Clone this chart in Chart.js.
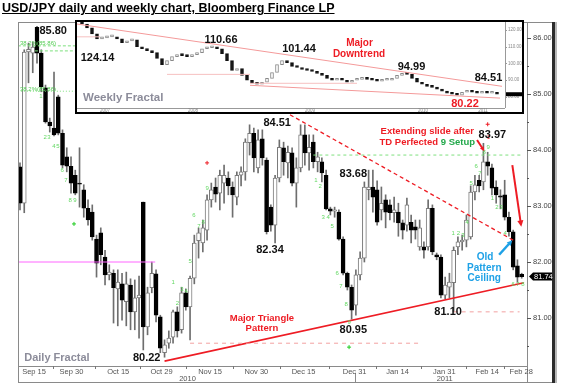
<!DOCTYPE html>
<html>
<head>
<meta charset="utf-8">
<script src="https://cdn.jsdelivr.net/npm/chart.js@4.4.1/dist/chart.umd.min.js"></script>
<style>
html, body { margin: 0; padding: 0; background: #fff; }
#wrap { position: relative; width: 568px; height: 388px; overflow: hidden; }
#main { position: absolute; left: 0; top: 0; }
#title { position: absolute; left: 2px; top: 1px; z-index: 3; white-space: nowrap;
         font: bold 12.5px "Liberation Sans", Arial, sans-serif; text-decoration: underline; color: #000; }
#insetBox { position: absolute; left: 75px; top: 20px; width: 445px; height: 90px;
            border: 2px solid #000; background: #fff; z-index: 2; }
#inset { position: absolute; left: 0; top: 0; }
</style>
</head>
<body>
<div id="wrap">
  <canvas id="main" width="568" height="388"></canvas>
  <div id="title">USD/JPY daily and weekly chart, Bloomberg Finance LP</div>
  <div id="insetBox"><canvas id="inset" width="445" height="90"></canvas></div>
</div>
<script>
// daily candles, index 0 = Sep 14 2010
const candleOpen = [
  83.70,83.05,85.75,85.73,86.19,85.73,85.11,84.50,84.39,84.95,
  84.30,83.88,83.71,83.55,83.41,83.29,82.96,82.89,82.41,82.52,
  82.09,81.77,81.80,81.52,81.61,81.29,81.59,81.11,81.36,83.07,
  80.84,81.54,81.79,81.02,80.38,80.55,80.66,81.11,80.79,81.45,
  81.20,81.71,82.38,82.34,82.57,83.11,83.34,83.23,83.41,83.50,
  83.34,83.16,83.55,83.61,84.13,84.30,83.68,84.20,83.82,82.98,
  82.66,83.50,84.04,83.77,83.95,83.41,83.68,84.27,83.95,84.14,
  83.79,83.79,83.55,82.95,82.91,82.89,82.41,81.80,81.55,81.23,
  81.77,82.07,83.29,83.34,83.29,82.93,83.11,83.02,82.88,82.89,
  82.70,82.66,82.71,82.63,82.27,82.27,82.27,82.96,82.13,82.09,
  81.41,81.55,81.63,82.27,82.36,82.39,82.45,83.25,83.46,83.43,
  83.79,83.68,83.34,83.18,83.20,82.80,82.54,81.93,81.78];
const candleHigh = [
  83.77,85.79,85.91,85.93,86.21,85.79,85.16,84.57,85.39,84.98,
  84.36,84.04,83.88,83.64,84.04,83.38,83.11,83.02,82.48,82.61,
  82.21,81.95,81.86,81.86,81.80,81.82,81.70,81.68,81.75,83.07,
  81.55,82.00,81.86,81.05,80.61,80.77,81.14,81.20,81.55,81.52,
  81.75,82.48,82.61,82.75,83.20,83.41,83.50,83.64,83.73,83.61,
  83.43,83.61,83.70,84.20,84.45,84.39,84.36,84.36,83.86,83.02,
  83.55,84.18,84.14,84.07,84.04,83.86,84.45,84.45,84.27,84.27,
  83.96,83.86,83.64,82.98,82.98,82.93,82.45,81.82,81.59,81.86,
  82.18,83.43,83.64,83.64,83.45,83.34,83.20,83.11,83.16,83.05,
  82.75,83.14,82.84,82.75,82.75,82.36,83.11,83.02,82.16,82.13,
  81.73,81.80,82.27,82.45,82.48,82.84,83.36,83.55,83.55,84.12,
  83.96,83.75,83.45,83.29,83.46,82.89,82.57,82.04,81.80];
const candleLow = [
  82.93,82.88,85.20,85.38,85.55,85.04,84.48,84.32,84.25,84.27,
  83.68,83.61,83.23,83.20,82.98,82.80,82.66,82.39,81.73,81.95,
  81.59,81.68,80.91,80.86,80.96,80.86,80.79,80.79,80.64,80.43,
  80.70,81.45,80.93,80.38,80.30,80.46,80.55,80.66,80.73,81.14,
  80.61,81.61,82.07,82.18,82.39,82.98,83.07,82.93,83.05,83.20,
  82.80,83.02,83.36,83.46,83.91,83.61,83.59,83.73,82.50,82.55,
  82.34,83.43,83.55,83.50,83.36,82.98,83.61,83.73,83.64,83.68,
  83.61,83.43,82.93,82.84,82.80,82.39,81.77,81.50,80.98,81.05,
  81.68,82.00,83.11,82.89,82.66,82.75,82.61,82.75,82.71,82.46,
  82.41,82.55,82.34,82.41,82.21,82.07,82.21,82.13,82.04,81.36,
  81.34,81.36,81.11,82.13,82.21,82.27,82.41,83.11,83.25,83.29,
  83.55,83.20,83.05,82.95,82.75,82.46,81.86,81.64,81.71];
const candleClose = [
  83.05,85.75,85.80,85.84,85.73,85.13,84.50,84.43,84.27,84.30,
  83.73,83.71,83.41,83.23,83.39,82.96,82.75,82.45,81.98,82.13,
  81.77,81.82,81.54,81.64,81.32,81.61,81.11,81.36,81.41,80.84,
  81.45,81.80,81.05,80.46,80.52,80.64,81.11,80.77,81.45,81.20,
  81.71,82.34,82.52,82.61,83.11,83.29,83.21,83.55,83.55,83.36,
  83.20,83.55,83.61,84.14,84.30,83.86,84.18,83.86,82.54,82.66,
  83.50,84.05,83.79,83.96,83.41,83.68,84.27,83.95,84.05,83.79,
  83.88,83.59,82.95,82.91,82.93,82.41,81.80,81.55,81.14,81.77,
  82.07,83.34,83.34,83.16,82.71,83.05,82.89,82.88,82.93,82.70,
  82.57,83.02,82.57,82.57,82.61,82.21,82.96,82.18,82.09,81.41,
  81.59,81.64,82.21,82.36,82.39,82.75,83.25,83.38,83.36,83.79,
  83.71,83.32,83.20,83.16,82.80,82.54,81.91,81.73,81.74];

// axis labels (positions are candle indices)
const xTickLabels = ['Sep 15','Sep 30','Oct 15','Oct 29','Nov 15','Nov 30','Dec 15','Dec 31','Jan 14','Jan 31','Feb 14','Feb 28'];
const xTickIndex  = [3.3, 12.1, 23.1, 33.3, 44.7, 55.6, 66.7, 78.7, 88.8, 99.8, 109.9, 117.9];
const yearLabels = ['2010', '2011'];
const yearIndex  = [39.4, 99.9];
const yTicks = [81, 82, 83, 84, 85, 86];
const lastPrice = 81.74;

// TD setup counts
const tdText  = ['1','2','3','4','5','6','7','8','9',
                 '1','2','3','4','5','6','7','8','9',
                 '1','2','3','4','5','6','7','8','9',
                 '1','2','3','4','5','6','7','8','9',
                 '1','2','3','4','6','7','8'];
const tdIndex = [4.9,5.9,6.8,8.0,8.9,9.9,10.8,11.8,12.9,
                 36.0,37.0,38.1,39.1,40.0,40.9,42.1,43.1,44.0,
                 69.6,70.6,71.3,72.5,73.4,74.6,75.5,76.7,77.4,
                 101.9,103.1,104.2,105.2,106.1,107.3,108.2,109.2,110.1,
                 111.1,112.2,113.2,114.1,116.0,117.1,118.3];
const tdPrice = [84.95,84.23,84.23,84.07,84.07,83.63,83.46,83.11,83.11,
                 81.63,81.27,81.52,81.48,82.02,82.84,82.64,82.70,83.32,
                 83.46,83.36,82.80,82.80,82.63,81.79,81.57,81.25,80.93,
                 82.52,82.52,82.48,82.71,83.41,83.71,83.59,83.96,84.04,
                 83.13,82.98,82.98,82.52,81.60,81.60,81.60];

// weekly closes for the inset, mid 2007 .. Feb 2011
const weeklyClose = [
  124.0,123.4,121.1,117.5,114.6,115.2,115.8,115.8,114.6,112.3,
  113.4,114.0,109.9,108.7,107.6,106.4,102.9,99.3,101.7,104.0,
  105.2,104.6,104.0,105.2,106.4,108.7,109.3,109.9,108.7,105.8,
  101.7,95.8,97.0,92.9,90.0,88.2,87.6,88.8,91.1,94.6,
  99.3,101.7,100.5,98.2,97.6,96.4,95.8,95.2,94.1,92.9,
  91.1,90.0,91.1,90.0,88.8,90.0,90.5,91.7,90.5,90.0,
  89.4,90.0,90.0,91.1,92.9,94.1,93.5,91.1,88.8,87.6,
  86.4,85.8,84.7,83.5,82.3,81.7,81.1,82.9,83.5,82.9,
  82.3,82.9,82.3,82.3,81.7];
const insetYTicks = [120, 110, 100, 90, 80];
const insetYearLabels = ['2007', '2008', '2009', '2010', '2011'];
const insetYearIndex  = [5.6, 23.2, 46.6, 69.2, 81.2];

const FONT = '"Liberation Sans", Arial, sans-serif';
const RED = '#ee1c24', GREEN = '#22a84a', BLUE = '#1ea1e6';

function seg(x0, y0, x1, y1, color, width, dash) {
  return {
    type: 'line',
    data: [{x: x0, y: y0}, {x: x1, y: y1}],
    borderColor: color, borderWidth: width, borderDash: dash || [],
    pointRadius: 0, fill: false, order: 0
  };
}

function arrow(ctx, x0, y0, x1, y1, color, width, head) {
  const ang = Math.atan2(y1 - y0, x1 - x0);
  ctx.strokeStyle = color; ctx.fillStyle = color; ctx.lineWidth = width;
  ctx.beginPath();
  ctx.moveTo(x0, y0);
  ctx.lineTo(x1 - Math.cos(ang) * head * 0.8, y1 - Math.sin(ang) * head * 0.8);
  ctx.stroke();
  ctx.beginPath();
  ctx.moveTo(x1, y1);
  ctx.lineTo(x1 - head * Math.cos(ang - 0.45), y1 - head * Math.sin(ang - 0.45));
  ctx.lineTo(x1 - head * Math.cos(ang + 0.45), y1 - head * Math.sin(ang + 0.45));
  ctx.closePath();
  ctx.fill();
}

function star(ctx, x, y, color) {
  ctx.strokeStyle = color; ctx.lineWidth = 1;
  ctx.beginPath();
  ctx.moveTo(x - 2, y); ctx.lineTo(x + 2, y);
  ctx.moveTo(x, y - 2); ctx.lineTo(x, y + 2);
  ctx.stroke();
}

// ---------- main daily chart ----------
const idx = candleOpen.map((_, i) => i);
const isUp = idx.map(i => candleClose[i] >= candleOpen[i]);

const mainOverlay = {
  id: 'mainOverlay',
  afterDatasetsDraw(chart) {
    const ctx = chart.ctx, a = chart.chartArea;
    const px = v => chart.scales.x.getPixelForValue(v);
    const py = v => chart.scales.y.getPixelForValue(v);
    ctx.save();
    ctx.textAlign = 'center';
    ctx.textBaseline = 'middle';

    // TD counts
    ctx.font = '6px ' + FONT;
    ctx.fillStyle = '#62d862';
    tdText.forEach((t, i) => ctx.fillText(t, px(tdIndex[i]), py(tdPrice[i])));
    ctx.fillStyle = RED;
    ctx.fillText('1', px(110.2), py(84.22));

    // fibonacci labels
    ctx.textAlign = 'left';
    ctx.fillStyle = '#55cc55';
    ctx.fillText('38.2%(85.86)', px(0), py(85.91));
    ctx.fillText('38.2%(85.86)', px(0), py(85.09));

    // fractal markers
    star(ctx, px(44), py(83.77), RED);
    star(ctx, px(110), py(84.46), RED);
    star(ctx, px(77.4), py(80.48), '#22cc22');
    star(ctx, px(12.7), py(82.68), '#22cc22');

    // price labels
    ctx.textAlign = 'center';
    ctx.font = 'bold 11px ' + FONT;
    ctx.fillStyle = '#111';
    [['85.80', 7.8, 86.125], ['80.22', 29.8, 80.29], ['84.51', 60.5, 84.48],
     ['82.34', 58.8, 82.21], ['83.68', 78.4, 83.57], ['80.95', 78.4, 80.79],
     ['81.10', 100.7, 81.11], ['83.97', 111.1, 84.27]]
      .forEach(n => ctx.fillText(n[0], px(n[1]), py(n[2])));

    // comments
    ctx.font = 'bold 9.5px ' + FONT;
    ctx.fillStyle = RED;
    ctx.fillText('Extending slide after', px(95.8), py(84.34));
    ctx.fillText('Major Triangle', px(56.9), py(81.0));
    ctx.fillText('Pattern', px(56.9), py(80.82));
    const t1 = 'TD Perfected ', t2 = '9 Setup';
    const w1 = ctx.measureText(t1).width, w2 = ctx.measureText(t2).width;
    const sx = px(95.8) - (w1 + w2) / 2;
    ctx.textAlign = 'left';
    ctx.fillText(t1, sx, py(84.14));
    ctx.fillStyle = GREEN;
    ctx.fillText(t2, sx + w1, py(84.14));
    ctx.textAlign = 'center';
    ctx.font = 'bold 10px ' + FONT;
    ctx.fillStyle = BLUE;
    ctx.fillText('Old', px(109.4), py(82.09));
    ctx.fillText('Pattern', px(109.2), py(81.89));
    ctx.fillText('Ceiling', px(109.2), py(81.71));

    ctx.textAlign = 'left';
    ctx.font = 'bold 11px ' + FONT;
    ctx.fillStyle = '#8c8c9a';
    ctx.fillText('Daily Fractal', px(1.0), py(80.29));

    // arrows
    arrow(ctx, px(115.8), py(83.73), px(117.9), py(82.63), RED, 2, 7);
    arrow(ctx, px(107.5), py(84.18), px(109.2), py(83.98), RED, 2, 5);
    arrow(ctx, px(112.7), py(82.13), px(115.8), py(82.39), BLUE, 2.5, 6);
    ctx.restore();
  },
  afterDraw(chart) {
    const ctx = chart.ctx, a = chart.chartArea;
    const px = v => chart.scales.x.getPixelForValue(v);
    const py = v => chart.scales.y.getPixelForValue(v);
    const bottom = 382, frameRight = 552;
    ctx.save();
    ctx.strokeStyle = '#8a8a8a';
    ctx.lineWidth = 1;
    ctx.beginPath();
    ctx.moveTo(a.left + 0.5, a.top); ctx.lineTo(a.left + 0.5, bottom);
    ctx.moveTo(a.left, a.top + 0.5); ctx.lineTo(frameRight, a.top + 0.5);
    ctx.moveTo(a.right + 0.5, a.top); ctx.lineTo(a.right + 0.5, bottom);
    ctx.moveTo(a.left, a.bottom + 0.5); ctx.lineTo(a.right, a.bottom + 0.5);
    ctx.moveTo(a.left, bottom + 0.5); ctx.lineTo(frameRight, bottom + 0.5);
    // year divider
    const dx = Math.round(px(78.8)) + 0.5;
    ctx.moveTo(dx, a.bottom + 7); ctx.lineTo(dx, bottom);
    ctx.stroke();
    ctx.fillStyle = '#2b2b2b';
    ctx.fillRect(frameRight, a.top, 3, bottom - a.top + 1);
    ctx.fillStyle = '#b8b8b8';
    ctx.fillRect(frameRight + 3, a.top, 2, bottom - a.top + 1);

    // x ticks between labels
    ctx.strokeStyle = '#777';
    ctx.beginPath();
    for (let i = 0; i < xTickIndex.length - 1; i++) {
      const x = Math.round(px((xTickIndex[i] + xTickIndex[i + 1]) / 2)) + 0.5;
      ctx.moveTo(x, a.bottom); ctx.lineTo(x, a.bottom + 3);
    }
    ctx.stroke();

    ctx.font = '7.5px ' + FONT;
    ctx.fillStyle = '#555';
    ctx.textAlign = 'center';
    ctx.textBaseline = 'middle';
    xTickLabels.forEach((t, i) => ctx.fillText(t, px(xTickIndex[i]), a.bottom + 6));
    yearLabels.forEach((t, i) => ctx.fillText(t, px(yearIndex[i]), a.bottom + 13));

    // right axis
    ctx.beginPath();
    ctx.strokeStyle = '#555';
    yTicks.forEach(v => {
      const y = Math.round(py(v)) + 0.5;
      ctx.moveTo(a.right, y); ctx.lineTo(a.right + 4, y);
      const ym = Math.round(py(v - 0.5)) + 0.5;
      ctx.moveTo(a.right, ym); ctx.lineTo(a.right + 2, ym);
    });
    ctx.stroke();
    ctx.textAlign = 'left';
    ctx.font = '7.5px ' + FONT;
    ctx.fillStyle = '#444';
    yTicks.forEach(v => ctx.fillText(v.toFixed(2), a.right + 6, py(v)));

    // last price tag
    const ly = py(lastPrice);
    ctx.fillStyle = '#000';
    ctx.beginPath();
    ctx.moveTo(a.right + 2, ly);
    ctx.lineTo(a.right + 6, ly - 4);
    ctx.lineTo(frameRight, ly - 4);
    ctx.lineTo(frameRight, ly + 4);
    ctx.lineTo(a.right + 6, ly + 4);
    ctx.closePath();
    ctx.fill();
    ctx.fillStyle = '#fff';
    ctx.fillText(lastPrice.toFixed(2), a.right + 7, ly + 0.5);
    ctx.restore();
  }
};

new Chart(document.getElementById('main'), {
  type: 'bar',
  data: {
    datasets: [
      seg(-0.5, 82.0, 31.8, 82.0, '#ff66ff', 1),
      seg(-0.5, 85.86, 13, 85.86, '#7ee07e', 1, [3, 2]),
      seg(3.5, 85.77, 13, 85.77, '#7ee07e', 1, [3, 2]),
      seg(-0.5, 85.05, 13, 85.05, '#7ee07e', 1, [1, 2]),
      seg(69, 83.91, 118, 83.91, '#7ee07e', 1, [3, 3]),
      seg(40, 80.55, 94, 80.55, '#f2a0a0', 1, [4, 4]),
      seg(102, 81.11, 117.5, 81.11, '#f2a0a0', 1, [4, 4]),
      seg(63.5, 84.63, 116, 82.39, RED, 1.3, [4, 3]),
      seg(34, 80.23, 118.5, 81.63, RED, 1.6),
      {
        type: 'bar',
        data: idx.map(i => ({x: i, y: [candleOpen[i], candleClose[i]]})),
        backgroundColor: isUp.map(u => u ? '#ffffff' : '#000000'),
        borderColor: isUp.map(u => u ? '#7a7a7a' : '#000000'),
        borderWidth: 1, borderSkipped: false, barThickness: 4, minBarLength: 1,
        grouped: false, order: 2
      },
      {
        type: 'bar',
        data: idx.map(i => ({x: i, y: [candleLow[i], candleHigh[i]]})),
        backgroundColor: '#6e6e6e', barThickness: 1, grouped: false, order: 3
      }
    ]
  },
  options: {
    responsive: false, animation: false, devicePixelRatio: 1,
    layout: {padding: {left: 18, top: 22, right: 41, bottom: 22}},
    plugins: {legend: {display: false}, tooltip: {enabled: false}},
    scales: {
      x: {type: 'linear', min: -0.47, max: 119.25, display: false, offset: false},
      y: {min: 80.143, max: 86.286, display: false}
    }
  },
  plugins: [mainOverlay]
});

// ---------- weekly inset ----------
const wk = weeklyClose.map((_, k) => k).slice(1);
const insetOverlay = {
  id: 'insetOverlay',
  afterDraw(chart) {
    const ctx = chart.ctx, a = chart.chartArea;
    const px = v => chart.scales.x.getPixelForValue(v);
    const py = v => chart.scales.y.getPixelForValue(v);
    ctx.save();
    ctx.textBaseline = 'middle';
    ctx.textAlign = 'center';
    ctx.font = 'bold 11px ' + FONT;
    ctx.fillStyle = '#111';
    [['124.14', 4.1, 103.5], ['110.66', 28.8, 114.0], ['101.44', 44.4, 108.7],
     ['94.99', 66.9, 97.6], ['84.51', 82.3, 91.1]]
      .forEach(n => ctx.fillText(n[0], px(n[1]), py(n[2])));
    ctx.fillStyle = RED;
    ctx.fillText('80.22', px(77.6), py(75.9));
    ctx.font = 'bold 10px ' + FONT;
    ctx.fillText('Major', px(56.5), py(111.7));
    ctx.fillText('Downtrend', px(56.4), py(105.2));
    ctx.textAlign = 'left';
    ctx.font = 'bold 11.5px ' + FONT;
    ctx.fillStyle = '#8c8c9a';
    ctx.fillText('Weekly Fractal', px(1.2), py(79.4));

    // axes
    ctx.strokeStyle = '#999';
    ctx.lineWidth = 1;
    ctx.beginPath();
    ctx.moveTo(a.right + 0.5, 0); ctx.lineTo(a.right + 0.5, a.bottom);
    ctx.moveTo(0, a.bottom + 0.5); ctx.lineTo(a.right, a.bottom + 0.5);
    insetYTicks.forEach(v => {
      const y = Math.round(py(v)) + 0.5;
      ctx.moveTo(a.right, y); ctx.lineTo(a.right + 2, y);
    });
    ctx.stroke();
    ctx.font = '4.5px ' + FONT;
    ctx.fillStyle = '#888';
    insetYTicks.forEach(v => ctx.fillText(v.toFixed(2), a.right + 3, py(v)));
    ctx.textAlign = 'center';
    insetYearLabels.forEach((t, i) => ctx.fillText(t, px(insetYearIndex[i]), a.bottom + 3));
    const last = weeklyClose[weeklyClose.length - 1];
    ctx.fillStyle = '#000';
    ctx.fillRect(a.right + 1, py(last) - 2, 16, 4);
    ctx.restore();
  }
};

new Chart(document.getElementById('inset'), {
  type: 'bar',
  data: {
    datasets: [
      seg(0, 123.4, 85, 86.4, '#f49a9a', 1),
      seg(34.6, 87.0, 84.6, 79.4, '#f49a9a', 1),
      seg(34.6, 88.2, 56, 88.2, '#f6c0c0', 1),
      seg(0, 115.8, 4.6, 115.8, '#f6c0c0', 1),
      seg(18, 93.5, 34.6, 93.5, '#f6c0c0', 1),
      {
        type: 'bar',
        data: wk.map(k => ({x: k, y: [weeklyClose[k - 1], weeklyClose[k]]})),
        backgroundColor: wk.map(k => weeklyClose[k] >= weeklyClose[k - 1] ? '#ffffff' : '#111111'),
        borderColor: wk.map(k => weeklyClose[k] >= weeklyClose[k - 1] ? '#888888' : '#111111'),
        borderWidth: 1, borderSkipped: false, barThickness: 3, minBarLength: 2,
        grouped: false, order: 2
      }
    ]
  },
  options: {
    responsive: false, animation: false, devicePixelRatio: 1,
    layout: {padding: {left: 0, top: 0, right: 17, bottom: 4}},
    plugins: {legend: {display: false}, tooltip: {enabled: false}},
    scales: {
      x: {type: 'linear', min: 0, max: 85.6, display: false, offset: false},
      y: {min: 73.52, max: 124.6, display: false}
    }
  },
  plugins: [insetOverlay]
});
</script>
</body>
</html>
